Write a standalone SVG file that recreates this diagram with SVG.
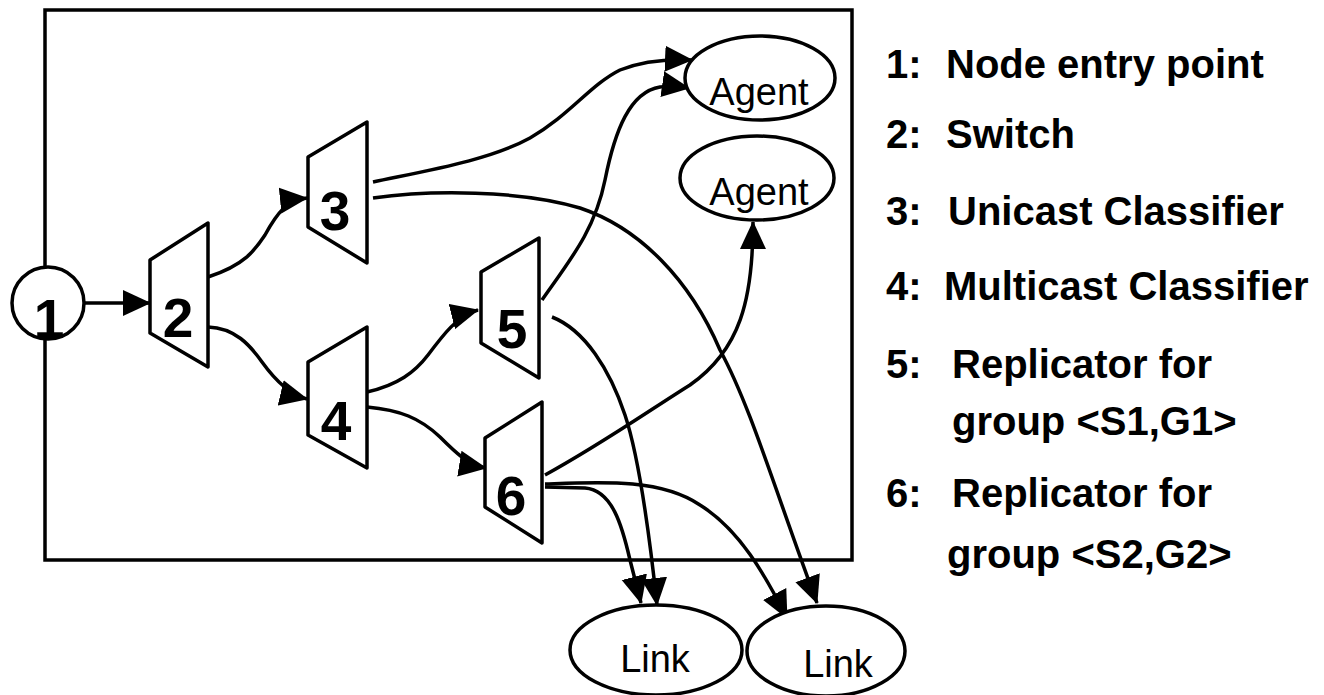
<svg xmlns="http://www.w3.org/2000/svg" width="1324" height="695" viewBox="0 0 1324 695">
<defs>
<marker id="arrow" markerUnits="userSpaceOnUse" markerWidth="28" markerHeight="28" viewBox="0 0 28 28" refX="27" refY="14" orient="auto">
<path d="M0,1 L28,14 L0,27 z" fill="#000"/>
</marker>
</defs>
<style>
.box{fill:none;stroke:#000;stroke-width:3.5}
.shape{fill:#fff;stroke:#000;stroke-width:3.5;stroke-linejoin:round}
.conn{fill:none;stroke:#000;stroke-width:3.5;marker-end:url(#arrow)}
.num{font-family:"Liberation Sans",Arial,sans-serif;font-weight:bold;font-size:55px;text-anchor:middle}
.lbl{font-family:"Liberation Sans",Arial,sans-serif;font-size:38px;text-anchor:middle}
.leg{font-family:"Liberation Sans",Arial,sans-serif;font-weight:bold;font-size:40px}
</style>
<rect id="container" class="box" x="45" y="10" width="807" height="550"/>
<g id="connectors">
<path class="conn" d="M84,303 L150,303"/>
<path class="conn" d="M208,277 C245,265 255,250 265,235 C277,213 287,200 307,198"/>
<path class="conn" d="M208,327 C235,328 250,345 262,362 C275,380 290,395 307,399"/>
<path class="conn" d="M367,392 C398,385 415,372 428,355 C443,335 458,315 478,310"/>
<path class="conn" d="M367,407 C400,410 420,418 440,437 C455,452 468,465 486,468"/>
<path class="conn" d="M373,182 C430,170 490,160 530,138 C570,115 590,85 620,70 C645,60 670,59 692,60"/>
<path class="conn" d="M373,198 C430,190 520,190 580,208 C640,228 690,280 720,350 C750,405 775,490 817,603"/>
<path class="conn" d="M542,300 C570,260 595,230 605,180 C615,130 630,92 660,87 C672,86 682,87 689,88"/>
<path class="conn" d="M552,317 C585,330 610,370 625,415 C640,460 650,540 657,605"/>
<path class="conn" d="M545,475 C600,445 650,410 690,385 C740,350 753,300 753,222"/>
<path class="conn" d="M545,487 L585,488 C612,490 622,525 630,560 L641,603"/>
<path class="conn" d="M545,484 C600,482 660,478 700,505 C740,530 765,575 787,618"/>
</g>
<g id="node1">
<circle class="shape" cx="48" cy="303" r="36"/>
<text class="num" x="49" y="338">1</text>
</g>
<g id="node2">
<polygon class="shape" points="150,260 208,223 208,367 150,333"/>
<text class="num" x="178" y="337">2</text>
</g>
<g id="node3">
<polygon class="shape" points="308,157 367,122 367,263 308,227"/>
<text class="num" x="335" y="230">3</text>
</g>
<g id="node4">
<polygon class="shape" points="308,362 367,327 367,468 308,435"/>
<text class="num" x="336" y="440">4</text>
</g>
<g id="node5">
<polygon class="shape" points="481,272 539,238 539,378 481,343"/>
<text class="num" x="512" y="348">5</text>
</g>
<g id="node6">
<polygon class="shape" points="485,438 542,402 542,543 485,507"/>
<text class="num" x="511" y="515">6</text>
</g>
<g id="agent1">
<ellipse class="shape" cx="760" cy="78" rx="75" ry="42"/>
<text class="lbl" x="759" y="105">Agent</text>
</g>
<g id="agent2">
<ellipse class="shape" cx="757" cy="178" rx="77" ry="42"/>
<text class="lbl" x="759" y="205">Agent</text>
</g>
<g id="link1">
<ellipse class="shape" cx="656" cy="650" rx="86" ry="45"/>
<text class="lbl" x="655" y="672">Link</text>
</g>
<g id="link2">
<ellipse class="shape" cx="826" cy="651" rx="79" ry="45"/>
<text class="lbl" x="838" y="677">Link</text>
</g>
<g id="legend">
<text class="leg" x="886" y="78">1:</text><text class="leg" x="946" y="78">Node entry point</text>
<text class="leg" x="886" y="148">2:</text><text class="leg" x="946" y="148">Switch</text>
<text class="leg" x="886" y="225">3:</text><text class="leg" x="948" y="225">Unicast Classifier</text>
<text class="leg" x="886" y="300">4:</text><text class="leg" x="944" y="300">Multicast Classifier</text>
<text class="leg" x="886" y="378">5:</text><text class="leg" x="952" y="378">Replicator for</text>
<text class="leg" x="952" y="435">group &lt;S1,G1&gt;</text>
<text class="leg" x="886" y="507">6:</text><text class="leg" x="952" y="507">Replicator for</text>
<text class="leg" x="947" y="568">group &lt;S2,G2&gt;</text>
</g>
</svg>
